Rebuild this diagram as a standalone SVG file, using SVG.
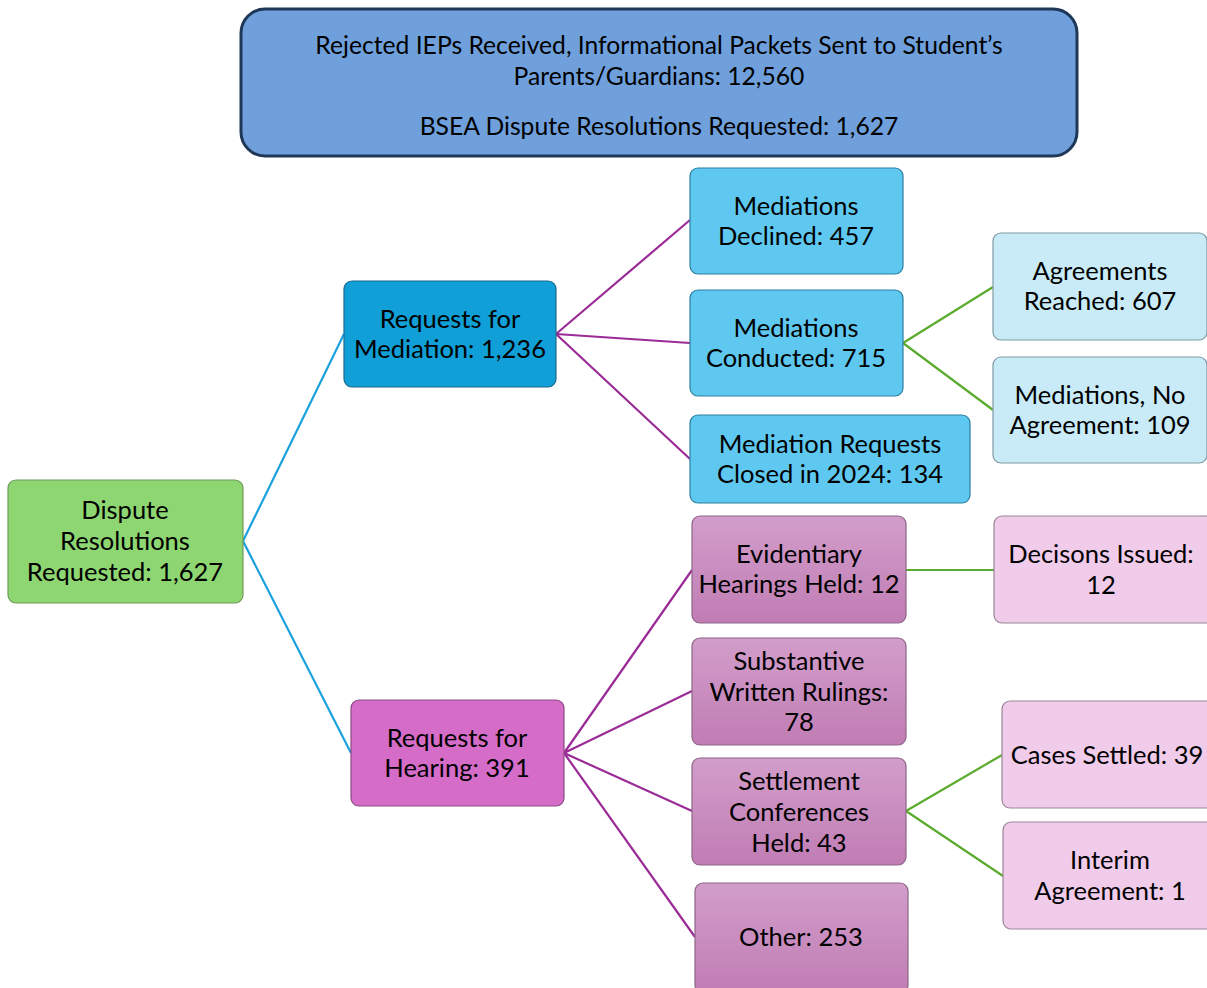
<svg xmlns="http://www.w3.org/2000/svg" width="1207" height="988" viewBox="0 0 1207 988">
<style>
text{font-family:Lato,"Open Sans","Liberation Sans",sans-serif;font-size:25.5px;fill:#000;text-anchor:middle}
.top text{font-size:24.7px}
.c1{fill:#6fa0dc;stroke:#1f3858;stroke-width:3}
.green{fill:#8ed672;stroke:#6c9c5a;stroke-width:1.2}
.req{fill:#109fd6;stroke:#1b6b8e;stroke-width:1.2}
.hear{fill:#d56dc8;stroke:#8a4a82;stroke-width:1.2}
.med{fill:#5fc8f0;stroke:#2c7ea0;stroke-width:1.2}
.light{fill:#c8ebf7;stroke:#7d9aa6;stroke-width:1.2}
.pink{fill:url(#pg);stroke:#8c6586;stroke-width:1.2}
.lpink{fill:#f0cbea;stroke:#9a8597;stroke-width:1.2}
.blue{stroke:#1ba1dc;stroke-width:2.2;fill:none}
.purp{stroke:#9b2b96;stroke-width:2.2;fill:none}
.grn{stroke:#5aab2e;stroke-width:2.2;fill:none}
</style>
<defs>
<linearGradient id="pg" x1="0" y1="0" x2="0" y2="1">
<stop offset="0" stop-color="#d29dca"/>
<stop offset="1" stop-color="#c07db4"/>
</linearGradient>
</defs>
<g id="connectors">
<path class="blue" d="M243,541 L344,334 M243,541 L351,753"/>
<path class="purp" d="M556,334 L690,220 M556,334 L690,343 M556,334 L690,459"/>
<path class="purp" d="M564,753 L692,570 M564,753 L692,691 M564,753 L692,811 M564,753 L695,937"/>
<path class="grn" d="M903,343 L993,287 M903,343 L993,410 M906,570 L994,570 M906,811 L1002,755 M906,811 L1003,876"/>
</g>
<g id="top" class="top">
<rect class="c1" x="241" y="9" width="836" height="147" rx="24"/>
<text x="659" y="54">Rejected IEPs Received, Informational Packets Sent to Student’s</text>
<text x="659" y="85">Parents/Guardians: 12,560</text>
<text x="659" y="135">BSEA Dispute Resolutions Requested: 1,627</text>
</g>
<g id="dispute">
<rect class="green" x="8" y="480" width="235" height="123" rx="8"/>
<text x="125" y="519">Dispute</text>
<text x="125" y="550">Resolutions</text>
<text x="125" y="581">Requested: 1,627</text>
</g>
<g id="reqmed">
<rect class="req" x="344" y="281" width="212" height="106" rx="8"/>
<text x="450" y="328">Requests for</text>
<text x="450" y="358">Mediation: 1,236</text>
</g>
<g id="reqhear">
<rect class="hear" x="351" y="700" width="213" height="106" rx="8"/>
<text x="457" y="747">Requests for</text>
<text x="457" y="777">Hearing: 391</text>
</g>
<g id="declined">
<rect class="med" x="690" y="168" width="213" height="106" rx="8"/>
<text x="796" y="215">Mediations</text>
<text x="796" y="245">Declined: 457</text>
</g>
<g id="conducted">
<rect class="med" x="690" y="290" width="213" height="106" rx="8"/>
<text x="796" y="337">Mediations</text>
<text x="796" y="367">Conducted: 715</text>
</g>
<g id="closed">
<rect class="med" x="690" y="415" width="280" height="88" rx="8"/>
<text x="830" y="453">Mediation Requests</text>
<text x="830" y="483">Closed in 2024: 134</text>
</g>
<g id="agreements">
<rect class="light" x="993" y="233" width="214" height="107" rx="8"/>
<text x="1100" y="280">Agreements</text>
<text x="1100" y="310">Reached: 607</text>
</g>
<g id="noagreement">
<rect class="light" x="993" y="357" width="214" height="106" rx="8"/>
<text x="1100" y="404">Mediations, No</text>
<text x="1100" y="434">Agreement: 109</text>
</g>
<g id="evidentiary">
<rect class="pink" x="692" y="516" width="214" height="107" rx="8"/>
<text x="799" y="563">Evidentiary</text>
<text x="799" y="593">Hearings Held: 12</text>
</g>
<g id="substantive">
<rect class="pink" x="692" y="638" width="214" height="107" rx="8"/>
<text x="799" y="670">Substantive</text>
<text x="799" y="701">Written Rulings:</text>
<text x="799" y="731">78</text>
</g>
<g id="settlement">
<rect class="pink" x="692" y="758" width="214" height="107" rx="8"/>
<text x="799" y="790">Settlement</text>
<text x="799" y="821">Conferences</text>
<text x="799" y="852">Held: 43</text>
</g>
<g id="other">
<rect class="pink" x="695" y="883" width="213" height="110" rx="8"/>
<text x="801" y="946">Other: 253</text>
</g>
<g id="decisions">
<rect class="lpink" x="994" y="516" width="220" height="107" rx="8"/>
<text x="1101" y="563">Decisons Issued:</text>
<text x="1101" y="594">12</text>
</g>
<g id="settled">
<rect class="lpink" x="1002" y="701" width="215" height="107" rx="8"/>
<text x="1107" y="764">Cases Settled: 39</text>
</g>
<g id="interim">
<rect class="lpink" x="1003" y="822" width="215" height="107" rx="8"/>
<text x="1110" y="869">Interim</text>
<text x="1110" y="900">Agreement: 1</text>
</g>
</svg>
